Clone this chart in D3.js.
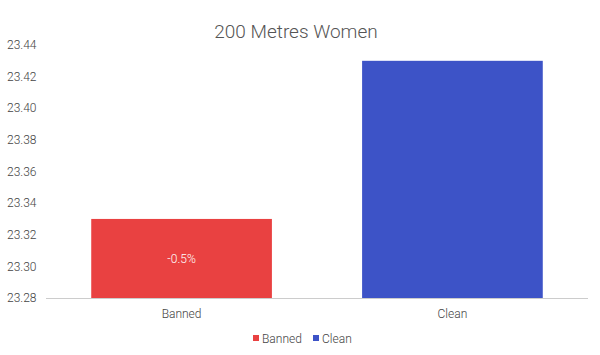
<!DOCTYPE html>
<html>
<head>
<meta charset="utf-8">
<script src="https://cdn.jsdelivr.net/npm/d3@7"></script>
<style>
  body { margin: 0; background: #fff; }
  text { font-family: Roboto, "Open Sans", sans-serif; font-weight: 300; }
</style>
</head>
<body>
<script>
const categories = ['Banned', 'Clean'];
const values = [23.33, 23.43];
const colors = ['#e94141', '#3d53c7'];
const yTicks = [23.28, 23.30, 23.32, 23.34, 23.36, 23.38, 23.40, 23.42, 23.44];
const barLabels = ['-0.5%', ''];

const W = 600, H = 355;
const margin = { top: 45, right: 12, bottom: 57, left: 46 };

const svg = d3.select('body').append('svg')
    .attr('width', W)
    .attr('height', H);

svg.append('text')
    .attr('x', 296)
    .attr('y', 38)
    .attr('text-anchor', 'middle')
    .attr('font-size', 19)
    .attr('fill', '#555')
    .text('200 Metres Women');

const x = d3.scaleBand()
    .domain(categories)
    .range([margin.left, W - margin.right])
    .paddingInner(0.333)
    .paddingOuter(0.167);

const y = d3.scaleLinear()
    .domain([23.28, 23.44])
    .range([H - margin.bottom, margin.top]);

// y tick labels
svg.append('g')
    .selectAll('text')
    .data(yTicks)
    .enter()
    .append('text')
    .attr('x', 7)
    .attr('y', d => y(d))
    .attr('dy', '0.35em')
    .attr('font-size', 12)
    .attr('fill', '#444')
    .text(d => d.toFixed(2));

svg.selectAll('.bar')
    .data(values)
    .enter()
    .append('rect')
    .attr('class', 'bar')
    .attr('x', (d, i) => x(categories[i]))
    .attr('y', d => y(d))
    .attr('width', x.bandwidth())
    .attr('height', d => y(23.28) - y(d))
    .attr('fill', (d, i) => colors[i]);

svg.selectAll('.barlabel')
    .data(values)
    .enter()
    .append('text')
    .attr('class', 'barlabel')
    .attr('x', (d, i) => x(categories[i]) + x.bandwidth() / 2)
    .attr('y', d => (y(d) + y(23.28)) / 2)
    .attr('dy', '0.35em')
    .attr('text-anchor', 'middle')
    .attr('font-size', 12)
    .attr('fill', '#fff')
    .text((d, i) => barLabels[i]);

// baseline
svg.append('line')
    .attr('x1', margin.left)
    .attr('x2', W - margin.right)
    .attr('y1', y(23.28) + 0.5)
    .attr('y2', y(23.28) + 0.5)
    .attr('stroke', '#ccc');

svg.selectAll('.xlabel')
    .data(categories)
    .enter()
    .append('text')
    .attr('class', 'xlabel')
    .attr('x', d => x(d) + x.bandwidth() / 2)
    .attr('y', 318)
    .attr('text-anchor', 'middle')
    .attr('font-size', 12)
    .attr('fill', '#444')
    .text(d => d);

// legend
const legendX = [253, 313];
const legend = svg.selectAll('.legend')
    .data(categories)
    .enter()
    .append('g')
    .attr('class', 'legend')
    .attr('transform', (d, i) => `translate(${legendX[i]}, 339)`);

legend.append('rect')
    .attr('x', 0)
    .attr('y', -4)
    .attr('width', 6)
    .attr('height', 6)
    .attr('fill', (d, i) => colors[i]);

legend.append('text')
    .attr('x', 9)
    .attr('y', 0)
    .attr('dy', '0.35em')
    .attr('font-size', 12)
    .attr('fill', '#444')
    .text(d => d);
</script>
</body>
</html>
